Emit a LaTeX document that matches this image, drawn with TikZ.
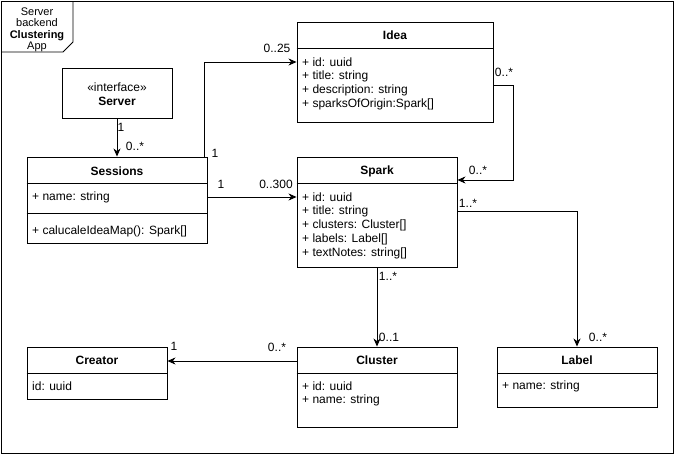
\documentclass[tikz,border=0pt]{standalone}
\usepackage{fontspec}
\setmainfont{Liberation Sans}
\usetikzlibrary{arrows.meta}
\begin{document}
\begin{tikzpicture}[x=1pt,y=-1pt,
  every node/.style={font=\fontsize{12}{14}\selectfont, inner sep=0pt},
  cls/.style={draw, line width=0.9pt, rectangle, fill=white},
  sep/.style={line width=0.9pt},
  ctitle/.style={font=\fontsize{12}{14}\selectfont\bfseries},
  attr/.style={anchor=west},
  mult/.style={font=\fontsize{12}{14}\selectfont},
  assoc/.style={line width=0.9pt, -{Stealth[length=8pt,width=7pt,inset=2.5pt]}}]
\useasboundingbox (0,0) rectangle (675,455);

% outer frame with its name tab
\draw[line width=0.9pt] (1,1) rectangle (673,453);
\draw[line width=0.9pt] (73,1) -- (73,42) -- (63,52) -- (1,52);
\node[align=center, font=\fontsize{11}{11.5}\selectfont] (frame) at (37,30)
  {Server\\backend\\\textbf{Clustering}\\App};

% Idea
\node[cls, minimum width=196pt, minimum height=100pt] (idea) at (395,72) {};
\draw[sep] (idea.west |- 0,48) -- (idea.east |- 0,48);
\node[ctitle] at (idea.center |- 0,35) {Idea};
\node[attr] at (302,62) {+ id: uuid};
\node[attr] at (302,76) {+ title: string};
\node[attr] at (302,90) {+ description: string};
\node[attr] at (302,104) {+ sparksOfOrigin:Spark[]};

% Server interface
\node[cls, minimum width=110pt, minimum height=50pt] (server) at (117,93) {};
\node at (117,87) {«interface»};
\node[ctitle] at (117,101) {Server};

% Sessions
\node[cls, minimum width=180pt, minimum height=86pt] (sessions) at (117,200) {};
\draw[sep] (sessions.west |- 0,183) -- (sessions.east |- 0,183);
\draw[sep] (sessions.west |- 0,213) -- (sessions.east |- 0,213);
\node[ctitle] at (117,171) {Sessions};
\node[attr] at (32,197) {+ name: string};
\node[attr] at (32,231) {+ calucaleIdeaMap(): Spark[]};

% Spark
\node[cls, minimum width=160pt, minimum height=110pt] (spark) at (377,212) {};
\draw[sep] (spark.west |- 0,183) -- (spark.east |- 0,183);
\node[ctitle] at (377,171) {Spark};
\node[attr] at (302,197) {+ id: uuid};
\node[attr] at (302,211) {+ title: string};
\node[attr] at (302,225) {+ clusters: Cluster[]};
\node[attr] at (302,239) {+ labels: Label[]};
\node[attr] at (302,253) {+ textNotes: string[]};

% Creator
\node[cls, minimum width=140pt, minimum height=52pt] (creator) at (97,373) {};
\draw[sep] (creator.west |- 0,373) -- (creator.east |- 0,373);
\node[ctitle] at (97,360) {Creator};
\node[attr] at (32,386) {id: uuid};

% Cluster
\node[cls, minimum width=160pt, minimum height=80pt] (cluster) at (377,387) {};
\draw[sep] (cluster.west |- 0,373) -- (cluster.east |- 0,373);
\node[ctitle] at (377,360) {Cluster};
\node[attr] at (302,386) {+ id: uuid};
\node[attr] at (302,400) {+ name: string};

% Label
\node[cls, minimum width=160pt, minimum height=60pt] (label) at (577,377) {};
\draw[sep] (label.west |- 0,373) -- (label.east |- 0,373);
\node[ctitle] at (577,360) {Label};
\node[attr] at (502,386) {+ name: string};

% associations
\draw[assoc] (server.south) -- (sessions.north);
\node[mult] at (121,127) {1};
\node[mult] at (135,146) {0..*};

\draw[assoc] ([xshift=-3pt]sessions.north east) |- (idea.west |- 0,62);
\node[mult] at (215,153) {1};
\node[mult] at (277,48) {0..25};

\draw[assoc] (sessions.east |- 0,197) -- (spark.west |- 0,197);
\node[mult] at (221,184) {1};
\node[mult] at (276,184) {0..300};

\draw[assoc] (idea.east |- 0,85) -- ++(20,0) |- (spark.east |- 0,180);
\node[mult] at (504,72) {0..*};
\node[mult] at (478,170) {0..*};

\draw[assoc] (spark.east |- 0,211) -| (label.north);
\node[mult] at (468,203) {1..*};
\node[mult] at (598,337) {0..*};

\draw[assoc] (spark.south) -- (cluster.north);
\node[mult] at (388,276) {1..*};
\node[mult] at (389,337) {0..1};

\draw[assoc] (cluster.west |- 0,361) -- (creator.east |- 0,361);
\node[mult] at (174,346) {1};
\node[mult] at (277,347) {0..*};
\end{tikzpicture}
\end{document}
